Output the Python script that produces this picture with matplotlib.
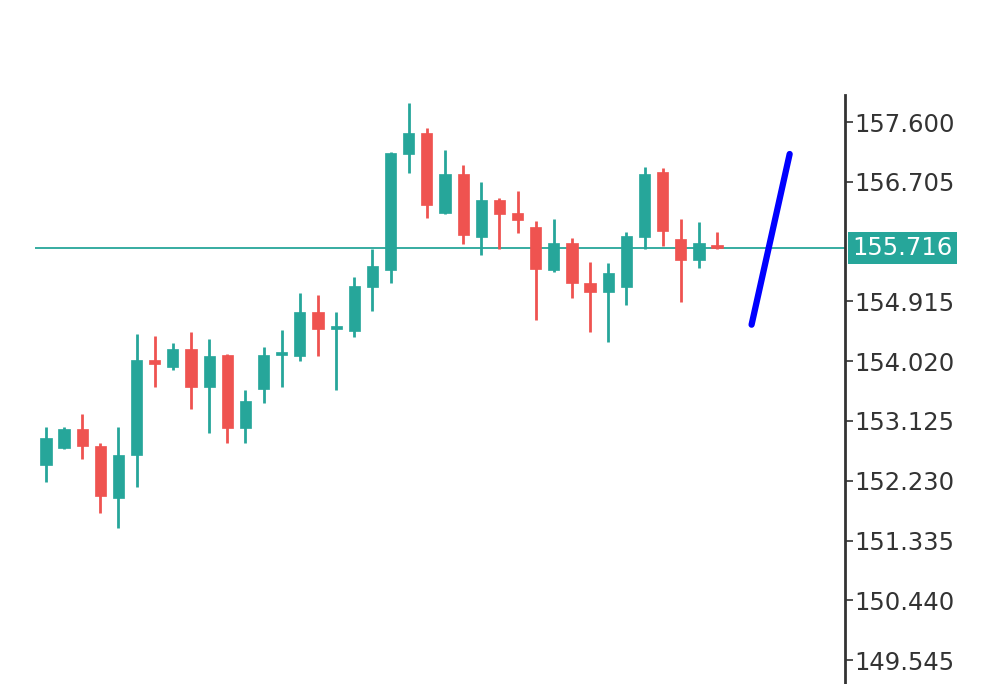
import matplotlib
matplotlib.use("Agg")
from matplotlib import pyplot as plt
from matplotlib import transforms
import numpy as np

# OHLC values
opens = [152.465, 152.720, 153.004, 152.750, 151.971, 152.615, 154.037, 153.932, 154.202, 153.633,
         154.112, 153.019, 153.603, 154.112, 154.097, 154.756, 154.501, 154.471, 155.130, 155.384,
         157.121, 157.435, 156.238, 156.822, 155.878, 156.432, 156.238, 156.028, 155.384, 155.789,
         155.190, 155.055, 155.130, 155.878, 156.851, 155.849, 155.534, 155.729]
highs = [153.034, 153.034, 153.229, 152.795, 153.034, 154.426, 154.396, 154.292, 154.456, 154.351,
         154.127, 153.588, 154.232, 154.486, 155.040, 155.010, 154.756, 155.280, 155.699, 157.151,
         157.884, 157.510, 157.181, 156.956, 156.702, 156.462, 156.567, 156.118, 156.148, 155.863,
         155.504, 155.489, 155.953, 156.926, 156.911, 156.148, 156.103, 155.953]
lows = [152.211, 152.705, 152.555, 151.747, 151.522, 152.136, 153.633, 153.887, 153.304, 152.944,
        152.795, 152.795, 153.393, 153.633, 154.022, 154.097, 153.588, 154.381, 154.771, 155.190,
        156.837, 156.163, 156.220, 155.774, 155.609, 155.699, 155.938, 154.636, 155.354, 154.965,
        154.456, 154.307, 154.860, 155.699, 155.744, 154.905, 155.414, 155.700]
closes = [152.869, 153.004, 152.750, 152.001, 152.615, 154.037, 153.977, 154.202, 153.633, 154.097,
          153.019, 153.423, 154.112, 154.127, 154.756, 154.501, 154.516, 155.145, 155.444, 157.136,
          157.435, 156.357, 156.822, 155.908, 156.432, 156.223, 156.133, 155.399, 155.789, 155.190,
          155.055, 155.340, 155.893, 156.822, 155.968, 155.534, 155.789, 155.716]

last_price = 155.716
yticks = [157.600, 156.705, 154.915, 154.020, 153.125, 152.230, 151.335, 150.440, 149.545]

# blue projection line
proj_x = [38.9, 41.0]
proj_y = [154.566, 157.122]

green = '#26a69a'
red = '#ef5350'

fig = plt.figure(figsize=(10, 6.84), dpi=100)
ax = fig.add_axes([0.035, 0.0, 0.81, 0.861])

x = np.arange(len(opens))
for i in x:
    o, h, l, c = opens[i], highs[i], lows[i], closes[i]
    col = green if c >= o else red
    ax.vlines(i, l, h, color=col, linewidth=2, zorder=2)
    bottom = min(o, c)
    height = max(abs(c - o), 0.04)
    ax.bar(i, height, bottom=bottom, width=0.62, color=col, edgecolor=col, linewidth=0.5, zorder=3)

ax.axhline(last_price, color=green, linewidth=1.3, zorder=1)
ax.plot(proj_x, proj_y, color='#0000ff', linewidth=4.5, solid_capstyle='round', zorder=4)

ax.set_xlim(-0.6, 44.05)
ax.set_ylim(149.187, 158.004)

for s in ['top', 'left', 'bottom']:
    ax.spines[s].set_visible(False)
ax.spines['right'].set_color('#333333')
ax.spines['right'].set_linewidth(2)
ax.set_xticks([])
ax.yaxis.tick_right()
ax.set_yticks(yticks)
ax.set_yticklabels(['%.3f' % v for v in yticks])
ax.tick_params(axis='y', direction='out', length=6, width=1.2, color='#333333',
               labelsize=17.5, labelcolor='#333333', pad=1)

label_tr = transforms.offset_copy(ax.get_yaxis_transform(), fig=fig, x=7, y=0, units='dots')
ax.text(1.0, last_price, '%.3f' % last_price, transform=label_tr,
        ha='left', va='center', fontsize=17.5, color='white',
        bbox=dict(boxstyle='square,pad=0.18', facecolor=green, edgecolor='none'))

plt.savefig('out.png', dpi=100)
